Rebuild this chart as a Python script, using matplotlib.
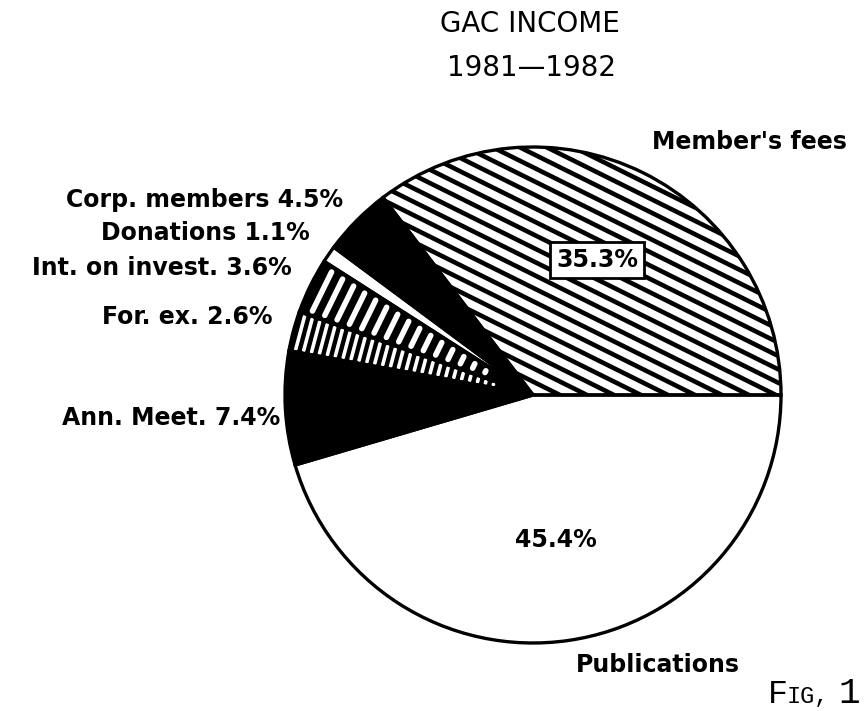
import numpy as np
import matplotlib
matplotlib.use("Agg")
from matplotlib import pyplot as plt
from matplotlib.collections import LineCollection

# slices, clockwise from 3 o'clock
labels = ["Publications", "Ann. Meet.", "For. ex.", "Int. on invest.",
          "Donations", "Corp. members", "Member's fees"]
shares = [45.4, 7.4, 2.6, 3.6, 1.1, 4.5, 35.3]
fills = ["white", "black", "black", "black", "white", "black", "white"]

CX, CY, R = 533, 316, 248  # pie centre / radius in pixel units


def stripes(ax, w, step, start, color, lw, margin=None):
    # lines perpendicular to the wedge bisector, clipped to the wedge
    mid = np.deg2rad((w.theta1 + w.theta2) / 2)
    half = np.deg2rad((w.theta2 - w.theta1) / 2)
    u = np.array([np.cos(mid), np.sin(mid)])
    v = np.array([-u[1], u[0]])
    c = np.array([CX, CY])
    segs = []
    for d in np.arange(start, R, step):
        if margin is None:
            h = 2 * R
        else:
            if d > R * np.cos(half) - margin:
                break
            h = d * np.tan(half) - margin
            if h <= 0:
                continue
        p = c + d * u
        segs.append([p - h * v, p + h * v])
    lc = LineCollection(segs, colors=color, linewidths=lw, capstyle="round", zorder=2)
    ax.add_collection(lc)
    lc.set_clip_path(w)


fig = plt.figure(figsize=(8.67, 7.11), dpi=100)
ax = fig.add_axes([0, 0, 1, 1])

wedges, _ = ax.pie(shares, colors=fills, startangle=0, counterclock=False,
                   center=(CX, CY), radius=R, frame=True,
                   wedgeprops=dict(linewidth=0, zorder=1))
# outlines on top of the hatching
ax.pie(shares, colors=["none"] * len(shares), startangle=0, counterclock=False,
       center=(CX, CY), radius=R, frame=True,
       wedgeprops=dict(linewidth=2.4, edgecolor="black", zorder=3))

stripes(ax, wedges[6], 12, 0, "black", 3.3)                 # Member's fees
stripes(ax, wedges[3], 13, 40, "white", 4.0, margin=5)      # Int. on invest.
stripes(ax, wedges[2], 8, 25, "white", 2.6, margin=3)       # For. ex.

ax.set_xlim(0, 867)
ax.set_ylim(0, 711)
ax.axis("off")

bold = dict(fontsize=17, fontweight="bold", family="DejaVu Sans", color="black")

ax.text(530, 687, "GAC INCOME", ha="center", va="center", fontsize=20)
ax.text(532, 643, "1981\u20141982", ha="center", va="center", fontsize=20)

ax.text(652, 569, "Member's fees", ha="left", va="center", **bold)
ax.text(343, 511, "Corp. members 4.5%", ha="right", va="center", **bold)
ax.text(310, 478, "Donations 1.1%", ha="right", va="center", **bold)
ax.text(292, 443, "Int. on invest. 3.6%", ha="right", va="center", **bold)
ax.text(273, 394, "For. ex. 2.6%", ha="right", va="center", **bold)
ax.text(280, 293, "Ann. Meet. 7.4%", ha="right", va="center", **bold)
ax.text(658, 46, "Publications", ha="center", va="center", **bold)

ax.text(597, 451, "35.3%", ha="center", va="center", zorder=5,
        bbox=dict(boxstyle="square,pad=0.25", fc="white", ec="black", lw=2), **bold)
ax.text(556, 171, "45.4%", ha="center", va="center", zorder=5, **bold)

ax.text(768, 8, "F", ha="left", va="baseline", fontsize=24, family="Liberation Mono")
ax.text(787, 8, "IG,", ha="left", va="baseline", fontsize=17, family="Liberation Mono")
ax.text(860, 8, "1", ha="right", va="baseline", fontsize=26, family="Liberation Mono")

plt.savefig("out.png", dpi=100)
